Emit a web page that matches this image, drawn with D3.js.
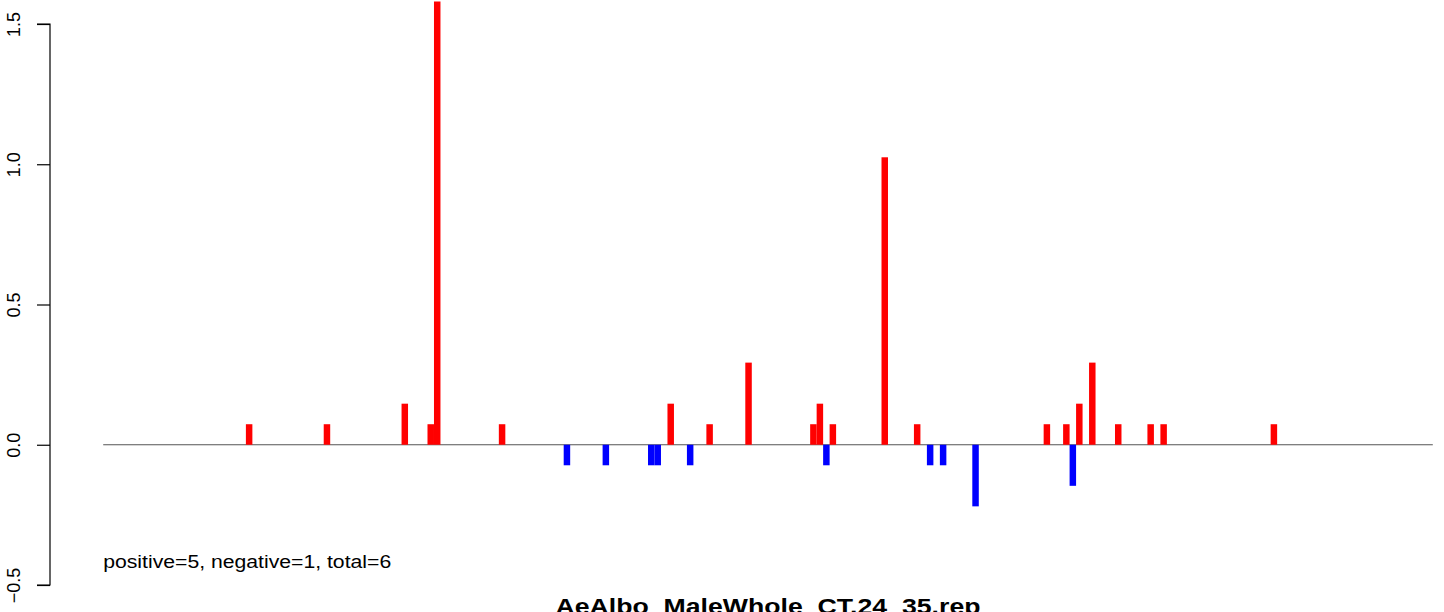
<!DOCTYPE html>
<html><head><meta charset="utf-8">
<script src="https://cdn.jsdelivr.net/npm/d3@7"></script>
<style>body{margin:0;background:#fff}svg{display:block}text{font-family:"Liberation Sans",Arial,sans-serif}</style>
</head><body>
<svg id="c" width="1444" height="612"></svg>
<script>
const barIndex = [22,34,46,50,51,61,71,77,84,85,87,90,93,99,109,110,111,112,120,125,127,129,134,145,148,149,150,152,156,161,163,180];
const barValue = [0.0732,0.0732,0.1464,0.0732,2.2,0.0732,-0.0732,-0.0732,-0.0732,-0.0732,0.1464,-0.0732,0.0732,0.2928,0.0732,0.1464,-0.0732,0.0732,1.0248,0.0732,-0.0732,-0.0732,-0.2196,0.0732,0.0732,-0.1464,0.1464,0.2928,0.0732,0.0732,0.0732,0.0732];
const yTicks = [-0.5,0,0.5,1,1.5];
const yTickLabels = ["\u22120.5","0.0","0.5","1.0","1.5"];
const xDomain = [0,205];
const yDomain = [-0.5,1.5];
const subtitle = "positive=5, negative=1, total=6";
const title = "AeAlbo_MaleWhole_CT.24_35.rep";

const svg = d3.select("#c");
const x = d3.scaleLinear().domain(xDomain).range([103.2,1432.8]);
const y = d3.scaleLinear().domain(yDomain).range([585,24]);
const plotTop = y(1.58), plotBot = y(-0.58);

svg.append("defs").append("clipPath").attr("id","clip")
  .append("rect").attr("x",50).attr("y",plotTop).attr("width",1436).attr("height",plotBot-plotTop);

const g = svg.append("g").attr("clip-path","url(#clip)");
g.append("line").attr("x1",x(xDomain[0])).attr("x2",x(xDomain[1]))
  .attr("y1",y(0)).attr("y2",y(0)).attr("stroke","#555").attr("stroke-width",1.2);
g.selectAll("rect.bar").data(barIndex.map((k,i)=>({k,v:barValue[i]}))).join("rect")
  .attr("class","bar")
  .attr("x",d=>x(d.k)).attr("width",d=>x(d.k+1)-x(d.k))
  .attr("y",d=>y(Math.max(0,d.v))).attr("height",d=>Math.abs(y(d.v)-y(0)))
  .attr("fill",d=>d.v>0?"#ff0000":"#0000ff");

const ax = svg.append("g").attr("transform","translate(50,0)")
  .call(d3.axisLeft(y).tickValues(yTicks).tickFormat((d,i)=>yTickLabels[i]).tickSize(13).tickPadding(0));
ax.select(".domain").attr("stroke","#000").attr("stroke-width",1.2).attr("d",`M-13,${y(-0.5)}H0V${y(1.5)}H-13`);
ax.selectAll(".tick line").attr("stroke","#000").attr("stroke-width",1.2);
ax.selectAll(".tick text").attr("font-size",18).attr("fill","#000")
  .attr("text-anchor","middle").attr("x",0).attr("y",0).attr("dy",0)
  .attr("transform","translate(-30,0) rotate(-90)");

svg.append("text").attr("x",x(0)).attr("y",568).attr("font-size",17.5)
  .attr("textLength",288).attr("lengthAdjust","spacingAndGlyphs").text(subtitle);
svg.append("text").attr("x",768).attr("y",614).attr("font-size",22).attr("font-weight","bold")
  .attr("text-anchor","middle").attr("textLength",425).attr("lengthAdjust","spacingAndGlyphs").text(title);
</script>
</body></html>
